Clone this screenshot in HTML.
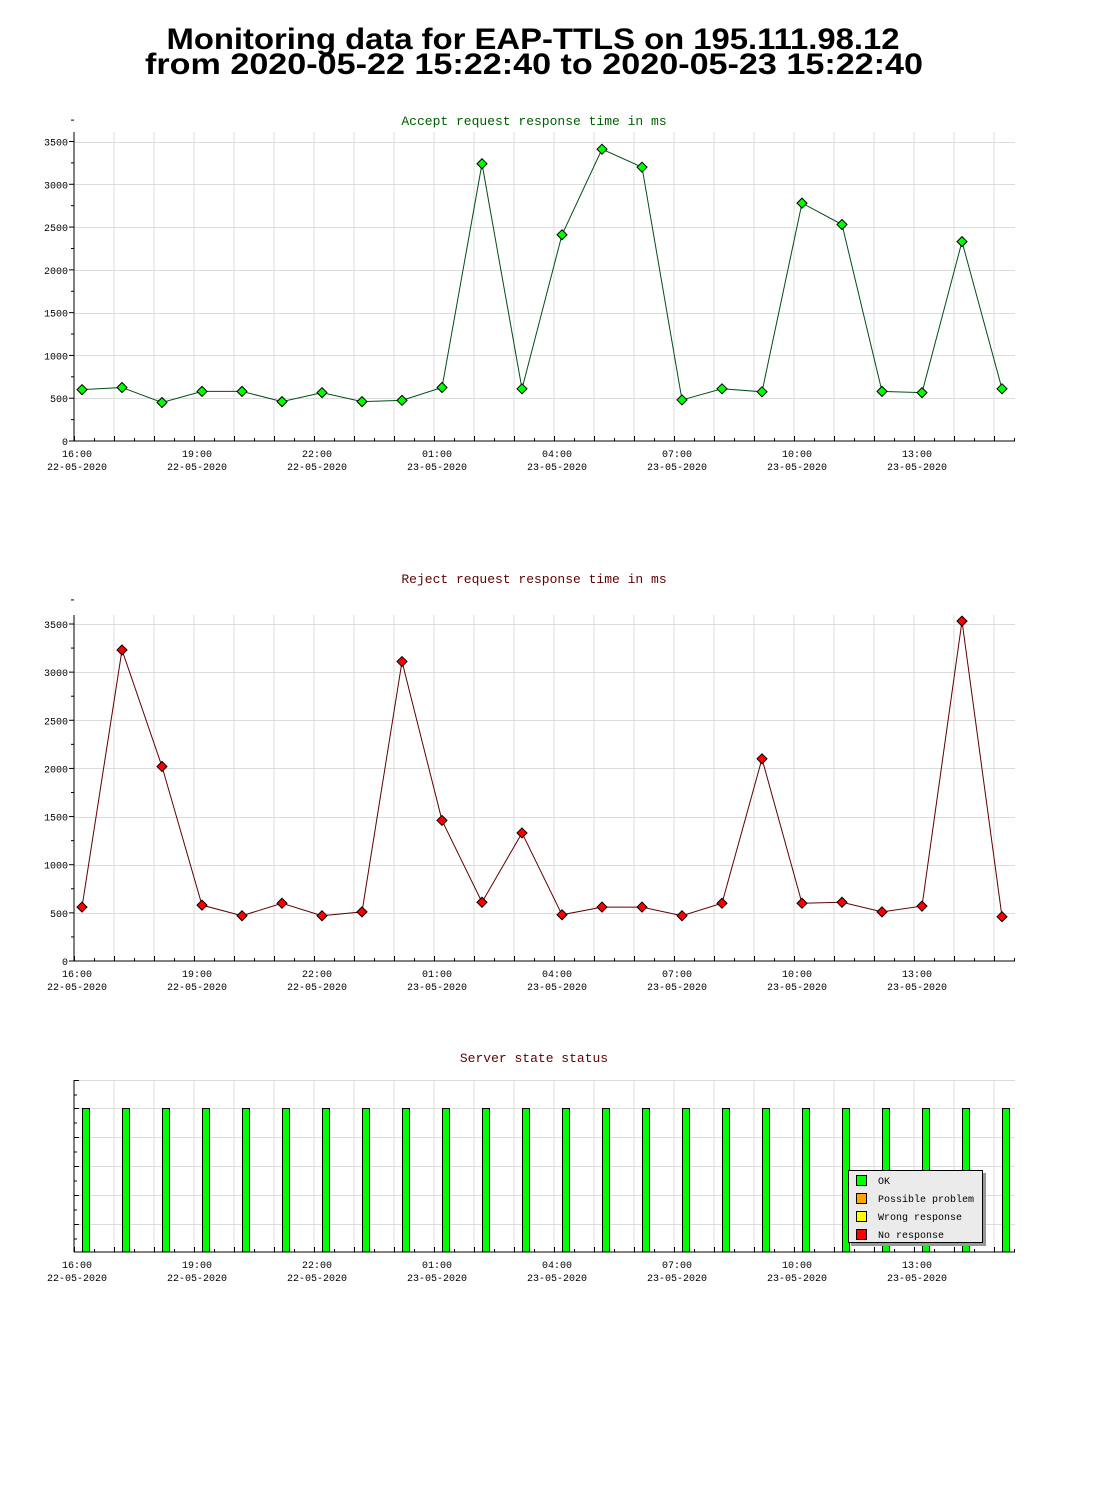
<!DOCTYPE html>
<html><head><meta charset="utf-8"><style>
html,body{margin:0;padding:0;background:#fff;}
svg{display:block;}
.t{font-family:"Liberation Mono",monospace;font-size:10px;fill:#000;}
.ct{font-family:"Liberation Mono",monospace;font-size:13px;}
</style></head><body>
<svg id="svg" width="1100" height="1500" xmlns="http://www.w3.org/2000/svg">
<text x="533" y="49" text-anchor="middle" textLength="733" lengthAdjust="spacingAndGlyphs" font-family="Liberation Sans, sans-serif" font-weight="bold" font-size="30">Monitoring data for EAP-TTLS on 195.111.98.12</text>
<text x="534" y="74" text-anchor="middle" textLength="778" lengthAdjust="spacingAndGlyphs" font-family="Liberation Sans, sans-serif" font-weight="bold" font-size="30">from 2020-05-22 15:22:40 to 2020-05-23 15:22:40</text>
</svg>
<script>
const hourLabels = ["16:00","19:00","22:00","01:00","04:00","07:00","10:00","13:00"];
const dateLabels = ["22-05-2020","22-05-2020","22-05-2020","23-05-2020","23-05-2020","23-05-2020","23-05-2020","23-05-2020"];
const yTicks = [0,500,1000,1500,2000,2500,3000,3500];
// sample times in hours after 16:00
const sampleHours = [0.2,1.2,2.2,3.2,4.2,5.2,6.2,7.2,8.2,9.2,10.2,11.2,12.2,13.2,14.2,15.2,16.2,17.2,18.2,19.2,20.2,21.2,22.2,23.2];
const acceptValues = [600,625,450,580,580,460,565,460,475,625,3240,610,2410,3410,3200,480,610,575,2780,2530,580,565,2330,610];
const rejectValues = [560,3230,2020,580,470,600,470,510,3110,1460,610,1330,480,560,560,470,600,2100,600,610,510,570,3530,460];
const statusValues = [1,1,1,1,1,1,1,1,1,1,1,1,1,1,1,1,1,1,1,1,1,1,1,1];
const legendLabels = ["OK","Possible problem","Wrong response","No response"];
const legendColors = ["#00ff00","#ffa500","#ffff00","#ff0000"];

const NS="http://www.w3.org/2000/svg";
const svg=document.getElementById('svg');
function mk(tag,attrs,parent,text){const e=document.createElementNS(NS,tag);for(const k in attrs)e.setAttribute(k,attrs[k]);if(text!==undefined)e.textContent=text;(parent||svg).appendChild(e);return e;}
const X0=74,X1=1015,HPX=40;
function xs(h){return X0+h*HPX;}

function frame(g,top,bottom,hGrid,yLabelFn){
  for(let i=0;i<=23;i++){const x=xs(i);mk('line',{x1:x,y1:top,x2:x,y2:bottom,stroke:'#dcdcdc','stroke-width':1},g);}
  hGrid.forEach(y=>mk('line',{x1:X0,y1:y,x2:X1,y2:y,stroke:'#dcdcdc','stroke-width':1},g));
  mk('line',{x1:X0,y1:top,x2:X0,y2:bottom,stroke:'#000'},g);
  mk('line',{x1:X0,y1:bottom,x2:X1,y2:bottom,stroke:'#000'},g);
  for(let i=0;i<=23;i++){const x=xs(i)+0.5;mk('line',{x1:x,y1:bottom,x2:x,y2:bottom-5,stroke:'#000'},g);
    mk('line',{x1:x+20,y1:bottom,x2:x+20,y2:bottom-3,stroke:'#000'},g);}
  hourLabels.forEach((l,i)=>{const x=xs(i*3)+3;
    const t1=mk('text',{x:x,y:bottom+16,'text-anchor':'middle',class:'t'},g,l);
    
    
    const t2=mk('text',{x:x,y:bottom+29,'text-anchor':'middle',class:'t'},g,dateLabels[i]);
    
    });
}

function lineChart(name,title,titleColor,titleY,top,bottom,y3500,vals,lineColor,dotColor){
  const g=mk('g',{});
  
  
  const ys=v=>bottom-(v/3500)*(bottom-y3500);
  const tt=mk('text',{x:534,y:titleY,'text-anchor':'middle',class:'ct',fill:titleColor},g,title);
  
  
  frame(g,top,bottom,yTicks.slice(1).map(v=>Math.round(ys(v))+0.5));
  yTicks.forEach(v=>{const y=ys(v);
    mk('line',{x1:X0-5,y1:y,x2:X0,y2:y,stroke:'#000'},g);
    mk('line',{x1:X0-3,y1:ys(v+250),x2:X0,y2:ys(v+250),stroke:'#000'},g);
    const t=mk('text',{x:X0-6,y:y+4,'text-anchor':'end',class:'t'},g,String(v));
    
    });
  const pts=vals.map((v,i)=>[xs(sampleHours[i]),ys(v)]);
  const pl=mk('polyline',{points:pts.map(p=>p.join(',')).join(' '),fill:'none',stroke:lineColor,'stroke-width':1},g);
  
  
  pts.forEach(p=>{const d=mk('polygon',{points:`${p[0]},${p[1]-5} ${p[0]+5},${p[1]} ${p[0]},${p[1]+5} ${p[0]-5},${p[1]}`,fill:dotColor,stroke:'#000','stroke-width':1},g);
    
    });
}
lineChart('accept-chart','Accept request response time in ms','#006000',125,132,441,141.5,acceptValues,'#004d1a','#00ff00');
lineChart('reject-chart','Reject request response time in ms','#600000',583,615,961,624,rejectValues,'#600000','#ff0000');

// status chart
(function(){
  const g=mk('g',{});
  
  
  const top=1080,bottom=1252,full=1108;
  const tt=mk('text',{x:534,y:1062,'text-anchor':'middle',class:'ct',fill:'#600000'},g,'Server state status');
  
  
  const hg=[1080.5,1108.5,1137.5,1166.5,1195.5,1224.5];
  frame(g,top,bottom,hg);
  hg.forEach(y=>{mk('line',{x1:X0,y1:y,x2:X0+5,y2:y,stroke:'#000'},g);mk('line',{x1:X0,y1:y+14.5,x2:X0+3,y2:y+14.5,stroke:'#000'},g);});
  const ys=v=>bottom-v*(bottom-full);
  statusValues.forEach((v,i)=>{const x=xs(sampleHours[i]);
    const b=mk('rect',{x:x+0.5,y:ys(v)+0.5,width:7,height:bottom-ys(v)-0.5,fill:'#00ff00',stroke:'#000','stroke-width':1},g);
    
    });
  const lg=mk('g',{},g);
  
  
  mk('rect',{x:851,y:1173,width:135,height:73,fill:'#999'},lg);
  mk('rect',{x:848.5,y:1170.5,width:134,height:72,fill:'#ebebeb',stroke:'#000'},lg);
  legendLabels.forEach((l,i)=>{const y=1175+i*18;
    mk('rect',{x:856.5,y:y+0.5,width:10,height:10,fill:legendColors[i],stroke:'#000'},lg);
    const t=mk('text',{x:878,y:y+9,class:'t'},lg,l);
    
    });
})();
</script>
</body></html>
